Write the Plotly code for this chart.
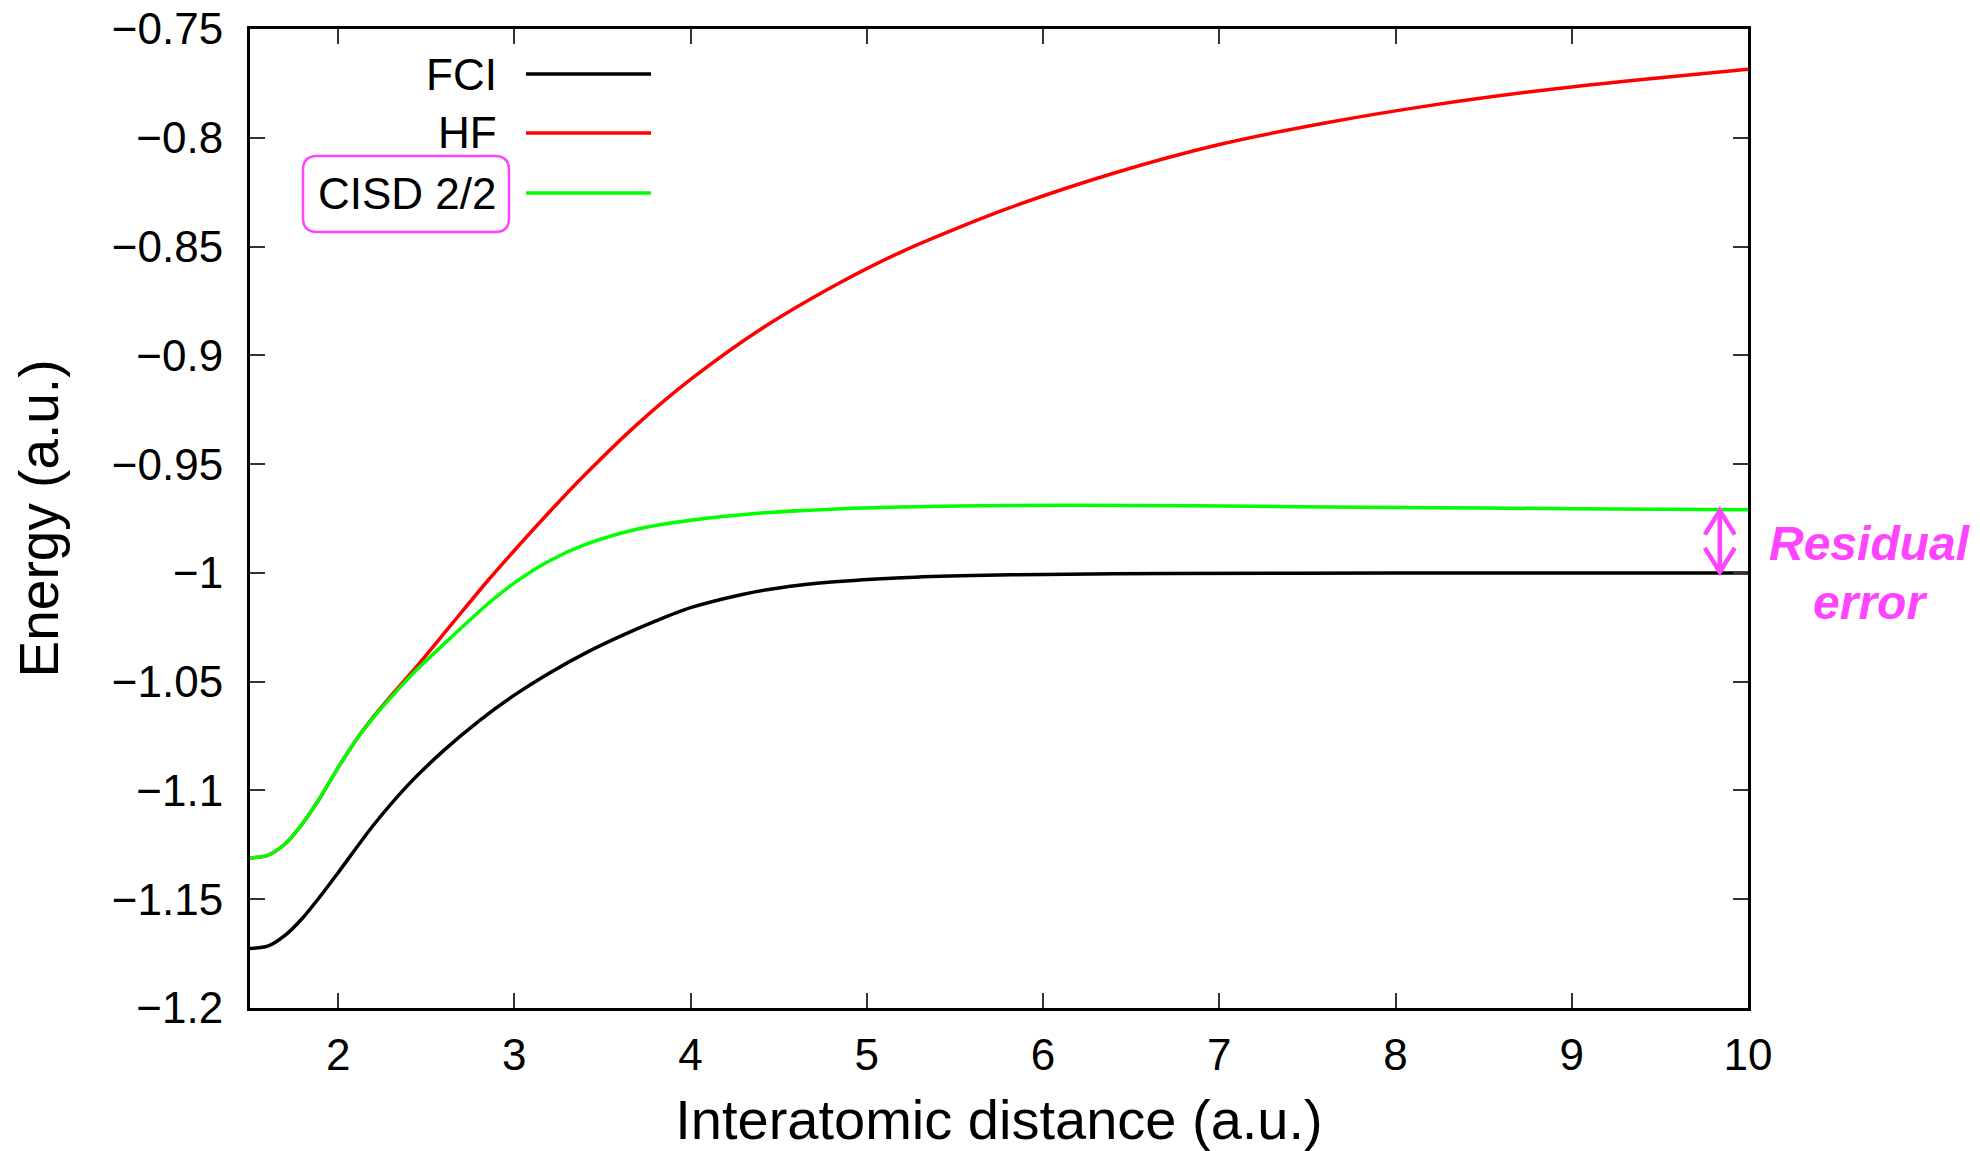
import numpy as np
import plotly.graph_objects as go

# ---------------- data ----------------
fci_x = [1.5, 1.6, 1.7, 1.8, 1.9, 2.0, 2.2, 2.4, 2.6, 2.8, 3.0, 3.2, 3.4, 3.6, 3.8,
         4.0, 4.3, 4.5, 4.8, 5.2, 5.6, 6.0, 6.7, 8.0, 10.0]
fci_y = [-1.1726, -1.1716, -1.1665, -1.1585, -1.1485, -1.1378, -1.1160, -1.0972,
         -1.0816, -1.0680, -1.0562, -1.0460, -1.0370, -1.0292, -1.0222, -1.0160,
         -1.0098, -1.0069, -1.0042, -1.0022, -1.0012, -1.0007, -1.0003, -1.0001, -1.0000]

hf_x = [1.5, 1.6, 1.7, 1.8, 1.9, 2.0, 2.1, 2.2, 2.3, 2.45, 2.65, 2.85, 3.0, 3.2, 3.4,
        3.7, 4.0, 4.4, 4.8, 5.2, 5.8, 6.4, 7.0, 7.6, 8.2, 8.8, 9.4, 10.0]
hf_y = [-1.1310, -1.1298, -1.1245, -1.1150, -1.1030, -1.0895, -1.0770, -1.0662,
        -1.0565, -1.0426, -1.0230, -1.0035, -0.9897, -0.9719, -0.9549, -0.9315,
        -0.9111, -0.8879, -0.8687, -0.8523, -0.8325, -0.8163, -0.8031, -0.7932,
        -0.7851, -0.7785, -0.7732, -0.7685]

cisd_x = [1.5, 1.6, 1.7, 1.8, 1.9, 2.0, 2.1, 2.2, 2.3, 2.45, 2.65, 2.85, 3.0, 3.2,
          3.4, 3.7, 4.0, 4.4, 4.8, 5.2, 5.8, 6.5, 7.2, 8.0, 9.0, 10.0]
cisd_y = [-1.1310, -1.1298, -1.1245, -1.1150, -1.1030, -1.0895, -1.0770, -1.0665,
          -1.0572, -1.0442, -1.0290, -1.0142, -1.0046, -0.9944, -0.9870, -0.9798,
          -0.9758, -0.9725, -0.9707, -0.9697, -0.9690, -0.9690, -0.9694, -0.9699,
          -0.9705, -0.9710]

series_names = ["FCI", "HF", "CISD 2/2"]

x_tickvals = [2, 3, 4, 5, 6, 7, 8, 9, 10]
y_tickvals = [-1.2, -1.15, -1.1, -1.05, -1.0, -0.95, -0.9, -0.85, -0.8, -0.75]
y_ticktext = ["\u22121.2", "\u22121.15", "\u22121.1", "\u22121.05", "\u22121",
              "\u22120.95", "\u22120.9", "\u22120.85", "\u22120.8", "\u22120.75"]

x_range = [1.5, 10]
y_range = [-1.2, -0.75]
arrow_x = 9.84

# ---------------- style ----------------
FONT = "Liberation Sans, Arial, Helvetica, sans-serif"
colors = ["#000000", "#ff0000", "#00ff00"]
MAGENTA = "#ff44ff"
W, H = 1980, 1151
ML, MR, MT, MB = 250, 232, 29, 143
PW, PH = W - ML - MR, H - MT - MB

fig = go.Figure()
for xs, ys, name, c in zip([fci_x, hf_x, cisd_x], [fci_y, hf_y, cisd_y], series_names, colors):
    fig.add_trace(go.Scatter(x=xs, y=ys, mode="lines", name=name,
                             line=dict(color=c, width=3.5, shape="spline", smoothing=0.8),
                             showlegend=False))

axis_common = dict(showgrid=False, zeroline=False, showline=True, linecolor="black",
                   linewidth=3, mirror="allticks", ticks="inside", ticklen=15,
                   tickwidth=1.5, tickcolor="#333333", automargin=False,
                   tickfont=dict(family=FONT, size=44, color="black"))

fig.update_xaxes(range=x_range, tickvals=x_tickvals, ticklabelstandoff=6, **axis_common,
                 title=dict(text="Interatomic distance (a.u.)",
                            font=dict(family=FONT, size=56, color="black"), standoff=25))
fig.update_yaxes(range=y_range, tickvals=y_tickvals, ticktext=y_ticktext,
                 ticklabelstandoff=15, **axis_common,
                 title=dict(text="Energy (a.u.)",
                            font=dict(family=FONT, size=55, color="black"), standoff=36))

def px_to_paper(px, py):
    return (px - ML) / PW, (H - MB - py) / PH

# manual legend (text left of line sample)
legend_rows_py = [74, 133, 193]
annotations = []
shapes = []
for name, c, py in zip(series_names, colors, legend_rows_py):
    tx, ty = px_to_paper(499, py)
    annotations.append(dict(x=tx, y=ty, xref="paper", yref="paper", text=name,
                            showarrow=False, xanchor="right", yanchor="middle",
                            font=dict(family=FONT, size=44, color="black")))
    x0, y0 = px_to_paper(526, py)
    x1, _ = px_to_paper(651, py)
    shapes.append(dict(type="line", xref="paper", yref="paper", x0=x0, x1=x1,
                       y0=y0, y1=y0, line=dict(color=c, width=3.5)))

# rounded box around CISD 2/2 label (pixel offsets from plot top-left)
bx0, bx1, by0, by1, r = 303 - ML, 509 - ML, -(156 - MT), -(232 - MT), 14
box_path = (f"M{bx0 + r},{by0} L{bx1 - r},{by0} Q{bx1},{by0} {bx1},{by0 - r} "
            f"L{bx1},{by1 + r} Q{bx1},{by1} {bx1 - r},{by1} L{bx0 + r},{by1} "
            f"Q{bx0},{by1} {bx0},{by1 + r} L{bx0},{by0 - r} Q{bx0},{by0} {bx0 + r},{by0} Z")
shapes.append(dict(type="path", xref="paper", yref="paper", xsizemode="pixel",
                   ysizemode="pixel", xanchor=0, yanchor=1, path=box_path,
                   line=dict(color=MAGENTA, width=2.5)))

# residual error arrow between CISD and FCI at large distance
y_top = float(np.interp(arrow_x, cisd_x, cisd_y))
y_bot = float(np.interp(arrow_x, fci_x, fci_y))
shapes.append(dict(type="line", xref="x", yref="y", x0=arrow_x, x1=arrow_x,
                   y0=y_top, y1=y_bot, line=dict(color=MAGENTA, width=4.5)))
shapes.append(dict(type="path", xref="x", yref="y", xsizemode="pixel", ysizemode="pixel",
                   xanchor=arrow_x, yanchor=y_top, path="M-15,-25 L0,-1 L15,-25",
                   line=dict(color=MAGENTA, width=4.5)))
shapes.append(dict(type="path", xref="x", yref="y", xsizemode="pixel", ysizemode="pixel",
                   xanchor=arrow_x, yanchor=y_bot, path="M-15,25 L0,1 L15,25",
                   line=dict(color=MAGENTA, width=4.5)))

for txt, py in [("Residual", 543), ("error", 602)]:
    tx, ty = px_to_paper(1870, py)
    annotations.append(dict(x=tx, y=ty, xref="paper", yref="paper",
                            text=f"<b><i>{txt}</i></b>", showarrow=False,
                            xanchor="center", yanchor="middle",
                            font=dict(family=FONT, size=48, color=MAGENTA)))

fig.update_layout(width=W, height=H, margin=dict(l=ML, r=MR, t=MT, b=MB, autoexpand=False),
                  paper_bgcolor="white", plot_bgcolor="white",
                  annotations=annotations, shapes=shapes, showlegend=False)

fig.write_html("out.html")
